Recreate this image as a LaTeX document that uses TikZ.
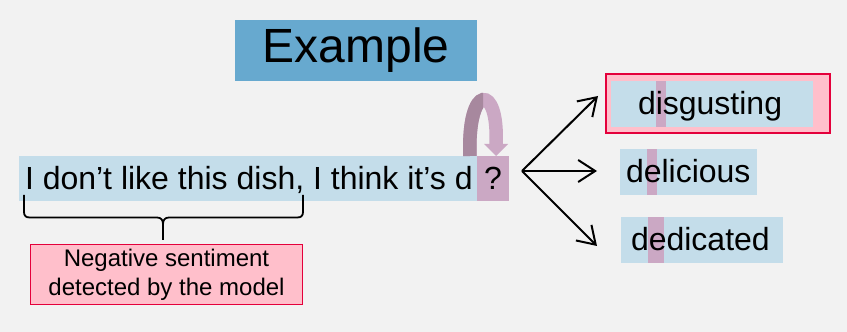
\documentclass[tikz,border=0pt]{standalone}
\usepackage{fontspec}
\setmainfont{Liberation Sans}
\usetikzlibrary{arrows.meta}
\definecolor{bgc}{HTML}{F2F2F2}
\definecolor{titleblue}{HTML}{67A9CF}
\definecolor{lightblue}{HTML}{C4DDEA}
\definecolor{mauve}{HTML}{CBA8C4}
\definecolor{mauvedark}{HTML}{A7889E}
\definecolor{pinkfill}{HTML}{FFBFCB}
\definecolor{redline}{HTML}{E4003B}
\newcommand{\bigtext}{\fontsize{32}{38}\selectfont}
\tikzset{
  box/.style={rectangle, inner sep=0pt, outer sep=0pt},
  wordbox/.style={box, fill=lightblue, minimum height=46pt},
  letterbox/.style={box, fill=mauve, minimum height=46pt},
  alertbox/.style={box, fill=pinkfill, draw=redline, line width=1.8pt},
  word/.style={inner sep=0pt, outer sep=0pt, anchor=base west, font=\bigtext},
  choice/.style={draw=black, line width=2pt,
    -{Straight Barb[length=17pt,width=22pt,line width=2pt]}},
  loopband/.style={line width=13.5pt},
}
\begin{document}
\begin{tikzpicture}[x=1pt,y=1pt]
\fill[bgc] (0,0) rectangle (847,332);
\useasboundingbox (0,0) rectangle (847,332);

% title
\node[box, fill=titleblue, minimum width=242pt, minimum height=61pt,
  font=\fontsize{48}{57}\selectfont] (title) at (356,281.5) {Example};

% sentence with the missing word
\node[wordbox, minimum width=458pt, minimum height=45pt, anchor=south west] (sentence) at (19,131) {};
\node[letterbox, minimum width=32pt, minimum height=45pt, anchor=south west] (blank) at (477,131) {};
\node[word] (sentext) at (25,142) {I don’t like this dish, I think it’s d};
\node[word, anchor=base] (qmark) at (493,142) {?};

% looping arrow over the blank
\draw[mauve, loopband] (470,176) .. controls (467,249) and (499,249) .. (496,188);
\fill[mauve] (484,188) -- (508,188) -- (496,176) -- cycle;
\begin{scope}
  \clip (440,170) rectangle (483,260);
  \draw[mauvedark, loopband] (470,176) .. controls (467,249) and (499,249) .. (496,188);
\end{scope}

% candidate words
\node[alertbox, minimum width=224pt, minimum height=59pt] (bestframe) at (718,228.5) {};
\node[wordbox, minimum width=202pt] (w1) at (712,228) {};
\node[letterbox, minimum width=10pt] (w1mark) at (661,228) {};
\node[word] (w1text) at (638,217) {disgusting};

\node[wordbox, minimum width=137pt] (w2) at (688.5,160) {};
\node[letterbox, minimum width=10pt] (w2mark) at (652,160) {};
\node[word] (w2text) at (626,149) {delicious};

\node[wordbox, minimum width=162pt] (w3) at (702,92) {};
\node[letterbox, minimum width=16pt] (w3mark) at (656,92) {};
\node[word] (w3text) at (631,81) {dedicated};

% branching arrows
\coordinate (fork) at (522,161);
\coordinate (toTop) at (598,236);
\coordinate (toMid) at (597,161);
\coordinate (toLow) at (597,86);
\draw[choice] (fork) -- (toTop);
\draw[choice] (fork) -- (toMid);
\draw[choice] (fork) -- (toLow);

% brace and annotation
\node[alertbox, line width=1.5pt, minimum width=272pt, minimum height=60pt,
  align=center, font=\fontsize{24}{29}\selectfont] (note) at (166.5,57.5)
  {Negative sentiment\\detected by the model};
\coordinate (braceL) at (24,137);
\coordinate (braceR) at (303,137);
\coordinate (braceTip) at (163,92);
\draw[line width=1.8pt, line join=round]
  (braceL) -- (24,120) .. controls (24,116) and (26,114.5) .. (30,114.5)
  -- (157,114.5) .. controls (161,114.5) and (163,112) .. (163,108) -- (braceTip)
  (163,108) .. controls (163,112) and (165,114.5) .. (169,114.5)
  -- (297,114.5) .. controls (301,114.5) and (303,116) .. (303,120) -- (braceR);
\end{tikzpicture}
\end{document}
